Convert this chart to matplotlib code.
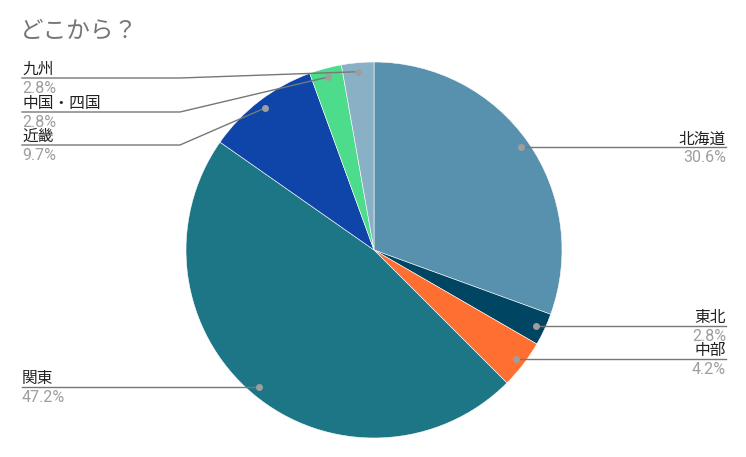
import numpy as np
import matplotlib.pyplot as plt

plt.rcParams['font.family'] = ['Roboto', 'Noto Sans CJK JP', 'DejaVu Sans']

# data: number of answers per region
regions = ['北海道', '東北', '中部', '関東', '近畿', '中国・四国', '九州']
counts = [22, 2, 3, 34, 7, 2, 2]
colors = ['#5891ad', '#004561', '#ff6f31', '#1c7685', '#0f45a8', '#4cdc8b', '#8ab0c5']

W, H = 746, 457
fig = plt.figure(figsize=(W / 100, H / 100), dpi=100)
ax = fig.add_axes([0, 0, 1, 1])

cx, cy, r = 374, H - 250, 188
wedges, _ = ax.pie(counts, colors=colors, startangle=90, counterclock=False,
                   center=(cx, cy), radius=r, frame=True,
                   wedgeprops=dict(edgecolor='white', linewidth=0.4))
ax.set_xlim(0, W)
ax.set_ylim(0, H)
ax.set_aspect('equal')
ax.axis('off')

total = sum(counts)
# stacked label rows on the left for the small top slices (pixel y from top)
left_rows = {'九州': 78, '中国・四国': 112, '近畿': 145}

for w, name, n in zip(wedges, regions, counts):
    mid = np.deg2rad((w.theta1 + w.theta2) / 2)
    dx, dy = cx + 0.952 * r * np.cos(mid), cy + 0.952 * r * np.sin(mid)
    pct = '{:.1f}%'.format(100 * n / total)
    if np.cos(mid) > 0:
        ly = dy
        ax.plot([dx, 726], [ly, ly], color='#777777', lw=1, zorder=3)
        tx, ha = 726, 'right'
    elif name in left_rows:
        ly = H - left_rows[name]
        ax.plot([22, 180, dx], [ly, ly, dy], color='#777777', lw=1, zorder=3)
        tx, ha = 22, 'left'
    else:
        ly = dy
        ax.plot([22, dx], [ly, dy], color='#777777', lw=1, zorder=3)
        tx, ha = 22, 'left'
    ax.plot(dx, dy, 'o', color='#9e9e9e', ms=4, zorder=4)
    ax.text(tx, ly + 4, name, ha=ha, va='baseline', fontsize=11.3, color='#222222')
    ax.text(tx, ly - 3, pct, ha=ha, va='top', fontsize=11.5, color='#9e9e9e')

ax.text(20, H - 31, 'どこから？', ha='left', va='center', fontsize=17, color='#757575')

fig.savefig('out.png', dpi=100, facecolor='white')
